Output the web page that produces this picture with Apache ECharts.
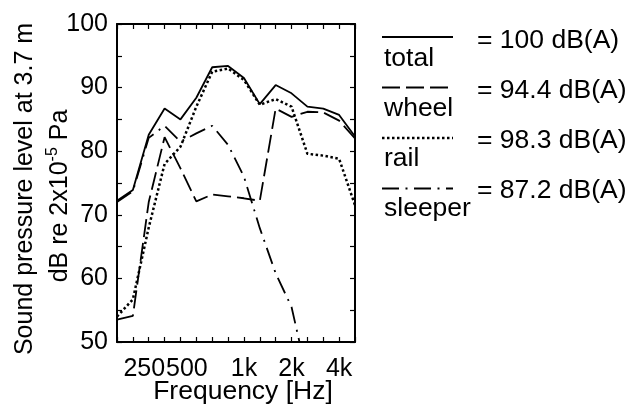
<!DOCTYPE html>
<html>
<head>
<meta charset="utf-8">
<script src="https://cdn.jsdelivr.net/npm/echarts@6/dist/echarts.min.js"></script>
<style>
  html, body { margin: 0; padding: 0; background: #fff; }
  #chart { width: 632px; height: 410px; }
</style>
</head>
<body>
<div id="chart"></div>
<script>
// One-third octave band centre frequencies (Hz)
const bands = ['160', '200', '250', '315', '400', '500', '630', '800', '1000',
               '1250', '1600', '2000', '2500', '3150', '4000', '5000'];
// Bands that carry a tick label, and the label shown for each
const tickBands = ['250', '500', '1000', '2000', '4000'];
const tickLabels = ['250', '500', '1k', '2k', '4k'];

// Sound pressure level per band, dB
const total   = [72.2, 73.9, 82.6, 86.7, 85.0, 88.4, 93.2, 93.4, 91.5, 87.4, 90.4, 89.1, 87.0, 86.7, 85.7, 82.3];
const wheel   = [53.5, 54.1, 72.0, 82.2, 77.3, 72.1, 73.2, 72.9, 72.6, 72.2, 86.7, 85.4, 86.2, 86.1, 84.8, 82.0];
const rail    = [54.0, 56.7, 68.0, 78.0, 80.7, 87.0, 92.5, 93.0, 91.2, 87.3, 88.2, 87.0, 79.6, 79.3, 78.8, 71.5];
const sleeper = [72.0, 73.7, 82.1, 84.0, 81.5, 82.8, 84.0, 81.0, 76.0, 67.9, 60.8, 55.5, 44.5, null, null, null];

// Legend texts
const sourceNames = ['total', 'wheel', 'rail', 'sleeper'];
const overallLevels = ['= 100 dB(A)', '= 94.4 dB(A)', '= 98.3 dB(A)', '= 87.2 dB(A)'];

const FONT = '"Liberation Sans", Arial, Helvetica, sans-serif';
const FS = 25;     // axis tick labels and y-axis title
const FS_L = 26.5; // legend and x-axis title

// Stroke styles: solid, long dash, dots, dash-dot
const strokes = [
  { width: 1.8, dash: null },
  { width: 1.8, dash: [18, 6] },
  { width: 2.5, dash: [2.5, 2.5] },
  { width: 1.8, dash: [17, 6.5, 2, 6.5] }
];
const seriesData = [total, wheel, rail, sleeper];

const chart = echarts.init(document.getElementById('chart'), null, { renderer: 'canvas' });

function makeSeries(i) {
  const s = strokes[i];
  return {
    name: sourceNames[i],
    type: 'line',
    data: seriesData[i],
    symbol: 'none',
    clip: true,
    connectNulls: false,
    lineStyle: { color: '#000', width: s.width, type: s.dash ? s.dash : 'solid', cap: 'butt' },
    z: 10 - i
  };
}

const axisLineStyle = { color: '#000', width: 2 };
const tickStyle = { color: '#000', width: 1.2 };

// Legend: sample stroke, name below it, overall level to the right
const legendGraphics = [];
for (let i = 0; i < 4; i++) {
  const yLine = 37 + 50.5 * i;
  const s = strokes[i];
  legendGraphics.push({
    type: 'line',
    shape: { x1: 382, y1: yLine, x2: 453, y2: yLine },
    style: { stroke: '#000', lineWidth: s.width, lineDash: s.dash || null }
  });
  legendGraphics.push({
    type: 'text', x: 384, y: 59 + 50 * i,
    style: { text: sourceNames[i], fontSize: FS_L, fontFamily: FONT, fill: '#000',
             align: 'left', verticalAlign: 'middle' }
  });
  legendGraphics.push({
    type: 'text', x: 477, y: 41 + 49.8 * i,
    style: { text: overallLevels[i], fontSize: FS_L, fontFamily: FONT, fill: '#000',
             align: 'left', verticalAlign: 'middle' }
  });
}

const option = {
  animation: false,
  backgroundColor: '#fff',
  grid: { left: 117, right: 277, top: 24, bottom: 68, containLabel: false },
  xAxis: [
    {
      type: 'category', data: bands, boundaryGap: false, position: 'bottom',
      axisLine: { show: true, onZero: false, lineStyle: axisLineStyle },
      axisTick: { show: true, inside: true, length: 5, interval: 0, lineStyle: tickStyle },
      axisLabel: {
        show: true, interval: 0, margin: 15,
        fontSize: FS, fontFamily: FONT, color: '#000',
        formatter: function (v) {
          const k = tickBands.indexOf(v);
          if (k < 0) return '';
          if (k === 0) return '{a|' + tickLabels[k] + '}';
          if (k === 1) return '{b|' + tickLabels[k] + '}';
          return tickLabels[k];
        },
        rich: {
          a: { fontSize: FS, fontFamily: FONT, color: '#000', padding: [0, 9, 0, 0] },
          b: { fontSize: FS, fontFamily: FONT, color: '#000', padding: [0, 19, 0, 0] }
        }
      },
      splitLine: { show: false }
    },
    {
      type: 'category', data: bands, boundaryGap: false, position: 'top',
      axisLine: { show: true, onZero: false, lineStyle: axisLineStyle },
      axisTick: { show: true, inside: true, length: 5, interval: 0, lineStyle: tickStyle },
      axisLabel: { show: false },
      splitLine: { show: false }
    }
  ],
  yAxis: [
    {
      type: 'value', min: 50, max: 100, interval: 5, position: 'left',
      axisLine: { show: true, onZero: false, lineStyle: axisLineStyle },
      axisTick: { show: true, inside: true, length: 5, lineStyle: tickStyle },
      axisLabel: {
        show: true, margin: 9, fontSize: FS, fontFamily: FONT, color: '#000',
        formatter: function (v) { return v % 10 === 0 ? String(v) : ''; }
      },
      splitLine: { show: false }
    },
    {
      type: 'value', min: 50, max: 100, interval: 5, position: 'right',
      axisLine: { show: true, onZero: false, lineStyle: axisLineStyle },
      axisTick: { show: true, inside: true, length: 5, lineStyle: tickStyle },
      axisLabel: { show: false },
      splitLine: { show: false }
    }
  ],
  series: [makeSeries(3), makeSeries(2), makeSeries(1), makeSeries(0)],
  graphic: [
    {
      type: 'text', x: 25, y: 189, rotation: Math.PI / 2,
      style: { text: 'Sound pressure level at 3.7 m', fontSize: FS, fontFamily: FONT, fill: '#000',
               align: 'center', verticalAlign: 'middle' }
    },
    {
      type: 'text', x: 59, y: 196, rotation: Math.PI / 2,
      style: {
        text: '{n|dB re 2x10}{s|-5}{n| Pa}',
        fontSize: FS, fontFamily: FONT, fill: '#000',
        align: 'center', verticalAlign: 'middle',
        rich: {
          n: { fontSize: FS, fontFamily: FONT, fill: '#000', lineHeight: 28, verticalAlign: 'bottom' },
          s: { fontSize: 16, fontFamily: FONT, fill: '#000', lineHeight: 16, verticalAlign: 'top' }
        }
      }
    },
    {
      type: 'text', x: 243, y: 392,
      style: { text: 'Frequency [Hz]', fontSize: FS_L, fontFamily: FONT, fill: '#000',
               align: 'center', verticalAlign: 'middle' }
    }
  ].concat(legendGraphics)
};

chart.setOption(option);
</script>
</body>
</html>
